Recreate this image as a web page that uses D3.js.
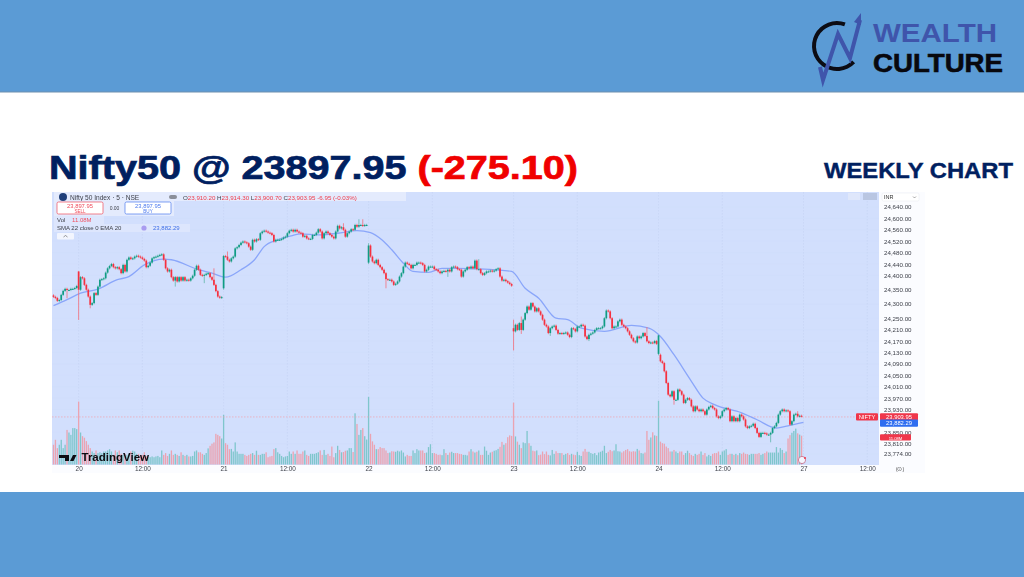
<!DOCTYPE html>
<html>
<head>
<meta charset="utf-8">
<script src="https://cdn.jsdelivr.net/npm/d3@7"></script>
<style>
  html, body { margin: 0; padding: 0; background: #fff; }
  svg { display: block; }
  .tv text { font-family: "Liberation Sans", sans-serif; }
</style>
</head>
<body>
<svg id="page" width="1024" height="577"></svg>
<script>
// closes per session
const closes19 = [24325,24321,24311,24314,24332,24346,24353,24349,24349,24353,24353,24356,24363];
const closes20 = [24350,24394,24390,24367,24350,24326,24297,24303,24338,24332,24361,24385,24387,24390,24410,
  24425,24433,24440,24429,24425,24429,24422,24408,24437,24414,24455,24463,24458,24460,24466,
  24469,24466,24463,24458,24452,24429,24434,24445,24460,24464,24466,24469,24472,24474,24455,
  24425,24414,24420,24394,24382,24394,24379,24394,24382,24394,24382,24385,24382,24390,24399,
  24420,24434,24420,24402,24399,24402,24406,24408,24394,24385,24367,24345,24326,24322,24324];
const closes21 = [24468,24466,24455,24449,24460,24466,24495,24499,24507,24515,24519,24516,24513,24501,24490,
  24525,24519,24527,24525,24548,24554,24557,24554,24550,24548,24542,24519,24525,24525,24525,
  24528,24533,24536,24548,24557,24560,24554,24560,24554,24550,24548,24536,24539,24530,24528,
  24528,24542,24542,24550,24562,24554,24530,24548,24554,24548,24542,24536,24530,24554,24574,
  24565,24569,24560,24536,24548,24554,24562,24560,24577,24571,24577,24577,24574,24577,24577];
const closes22 = [24505,24466,24449,24443,24455,24437,24429,24420,24408,24387,24385,24385,24379,24367,24371,
  24379,24396,24408,24431,24445,24441,24437,24425,24437,24437,24445,24445,24443,24437,24414,
  24420,24431,24431,24431,24422,24420,24414,24408,24414,24416,24414,24420,24414,24429,24431,
  24429,24422,24420,24396,24414,24420,24429,24425,24431,24425,24452,24422,24422,24408,24402,
  24408,24414,24414,24417,24414,24417,24422,24425,24396,24382,24385,24380,24375,24370,24364];
const closes23 = [24204,24227,24209,24233,24209,24245,24268,24291,24280,24303,24291,24274,24285,24274,24262,
  24245,24227,24221,24198,24215,24221,24224,24209,24196,24198,24196,24198,24200,24192,24184,
  24215,24212,24204,24221,24221,24227,24224,24186,24177,24192,24196,24200,24209,24215,24215,
  24215,24221,24250,24277,24274,24250,24215,24221,24221,24239,24245,24227,24221,24215,24204,
  24192,24180,24169,24165,24186,24180,24186,24198,24188,24169,24163,24165,24163,24170,24160];
const closes24 = [24190,24099,24093,24064,24023,23982,23976,23994,23964,23964,24000,23994,23982,23953,23964,
  23970,23964,23941,23924,23941,23930,23924,23930,23924,23912,23930,23939,23943,23935,23930,
  23906,23900,23906,23924,23930,23935,23930,23889,23906,23889,23900,23889,23912,23906,23895,
  23871,23865,23871,23873,23880,23865,23848,23834,23848,23848,23846,23842,23842,23848,23865,
  23871,23883,23912,23924,23930,23924,23927,23924,23877,23889,23912,23915,23906,23908,23906];

// volume per session in millions
const vols19 = [7.6,9.5,6.3,7.6,9.5,6.3,7.6,13.3,12.3,11.4,14,14,13.6];
const vols20 = [24.2,12.3,10.9,10.3,9,7.6,6.3,5,4.4,5.4,4.4,4.7,4.4,5,5,
  5.4,5.9,5,3.7,5.4,4.7,5.4,4.1,3.7,4.1,3.7,4.1,5,5.3,5,
  4.1,4.1,3.7,3.7,4.7,3.3,3.1,2.8,3.1,2.8,3.1,3.3,2.8,5.4,3.7,
  4.4,3.3,4.1,5.4,3.7,4.1,3.7,3.3,4.7,3.7,3.3,3.7,3.1,3.1,3.3,
  5,5.4,4.7,4.7,4.1,3.7,4.4,6.2,7.2,8,8.5,11.8,11.4,10.9,10];
const vols21 = [19.1,8.2,7.6,5.9,6,5,8.5,5,4.1,4.1,4.1,3.7,3.3,3.7,4.1,
  4.4,3.7,5.3,3.7,3.7,4.1,4.1,4.7,2.8,3.1,3.3,5.9,6.3,4.7,4.1,
  3.3,2.8,3.1,3.3,5,4.1,5,4.1,5.4,4.1,4.1,5,5.4,3.7,3.3,
  4.1,4.1,4.1,4.4,4.7,5.4,3.7,5.6,3.7,4.1,3.3,6.9,2.8,4.4,7.2,
  5.6,4.7,4.8,5.3,5.4,6.3,6.3,4.8,19.7,15.6,11.4,13.3,14,10.9,9.6];
const vols22 = [26,11.8,8.9,7.6,5.9,5.9,6.7,6.3,6.3,5.4,4.4,4.6,5.1,5,4.9,
  5.3,5,5.4,4.6,3.1,3.7,3.3,3.3,5.4,4.4,5.9,5.4,5.4,5.4,4.4,
  4.6,6.7,7.8,4.4,4.4,4.1,3.7,3.8,3.6,5.9,4.4,3.7,4.6,4.9,4.4,
  4.4,4.4,4.1,4,3.7,3.7,3.5,5,5.9,5,4.6,4.9,5.4,3.7,3.7,
  6.9,5.3,3.7,4.6,4.9,5.3,5.5,6,6.8,8.7,7.6,8.2,10.5,11.2,11];
const vols23 = [23.8,10.8,8.8,7.6,6.3,8.5,8.2,12.9,8.2,7.2,5.3,5.1,5.4,3.6,3.8,
  5,4,5,3.7,3.5,5.6,4.1,5.1,4.4,4.4,4.4,3.7,4.1,4.4,3.7,
  4.1,3.8,3.6,4.9,3.6,3.3,5,6,4.9,4.9,4.4,4.1,4.4,3.6,4.6,
  4.9,5.3,7.2,4.4,4.9,5.6,5.1,5.4,7.8,5.1,5,4.6,5.1,5.6,5.9,
  5.1,4.9,5.1,5,6,5.4,4.4,4.2,4.6,12.9,9.5,10.4,12.4,11.2,11];
const vols24 = [24.5,8.8,8.2,8,6.9,6.3,5,5,5.6,5,4.4,5,5,3.7,4.4,
  5.3,4.4,3.7,3.3,4.1,3.7,4.1,5,3.7,4.4,3.1,3.7,3.3,4.1,4.4,
  4.4,5,3.7,5,5.4,5.9,3.7,4.1,4.1,3.7,4.1,3.6,4.4,4.1,4.6,
  4.1,4,3.7,4.1,4.1,4.1,4.1,4.4,3.7,4.1,4.4,5,4.6,4.6,4.6,
  4.6,6.7,4.6,6.3,5.6,4.4,5,10,11.3,12.2,12.9,13.8,12,11.5,11.08];

// opens that differ from the previous close: [bar, open]
const openFixes = [[0,24330],[13,24414],[88,24355],[163,24445],[238,24215],[313,24125],[314,24122]];
// wicks that stand out: [bar, high, low]
const wickFixes = [[7,null,24320],[13,24415,24244],[19,null,24285],[63,null,24361],[78,null,24373],[83,24425,null],
  [88,24472,24350],[90,24484,null],[150,24583,null],[158,24597,null],[160,24597,null],[163,24513,24440],
  [172,null,24355],[204,null,24395],[220,24457,null],[238,24245,24137],[242,24256,24195],[257,null,24188],
  [277,null,24170],[307,24219,null],[313,24192,24120],[321,null,23947],[371,null,23815],[385,23924,null]];
const typicalWick = 4;

// blue EMA line, read at these bars
const emaBars = [0,7,14,23,33,39,47,57,61,75,82,89,97,104,109,116,123,128,137,147,157,164,170,175,181,186,194,201,208,223,237,244,251,260,266,273,285,299,308,314,321,330,336,342,356,364,374,380,388];
const emaValues = [24294,24315,24338,24352,24385,24396,24437,24457,24455,24420,24408,24394,24420,24455,24501,24525,24539,24546,24542,24548,24557,24550,24524,24490,24443,24414,24411,24425,24425,24422,24414,24355,24320,24250,24245,24215,24204,24225,24215,24186,24122,24029,23970,23947,23918,23894,23865,23873,23885];

const priceTicks = [24640,24600,24560,24520,24480,24440,24400,24350,24300,24250,24210,24170,24130,24090,24050,24010,23970,23930,23850,23810,23774];
const timeBars = [13,46,88,121,163,196,238,271,313,346,388,421];
const timeLabels = ['20','12:00','21','12:00','22','12:00','23','12:00','24','12:00','27','12:00'];

const lastPrice = 23903.95, emaLast = 23882.29, lastVol = 11.08;

const allCloses = closes19.concat(closes20, closes21, closes22, closes23, closes24);
const allVols = vols19.concat(vols20, vols21, vols22, vols23, vols24);
const openAt = new Map(openFixes), wickAt = new Map(wickFixes.map(d => [d[0], d]));

let bars = allCloses.map(function(c, i) {
  let o = openAt.has(i) ? openAt.get(i) : allCloses[i - 1];
  let w = wickAt.get(i) || [];
  return {
    i: i, o: o, c: c, v: allVols[i],
    h: w[1] != null ? w[1] : Math.max(o, c) + typicalWick,
    l: w[2] != null ? w[2] : Math.min(o, c) - typicalWick
  };
});

const svg = d3.select('#page');
const blue = '#5b9bd5', navy = '#002060';

// page bands
svg.append('rect').attr('width', 1024).attr('height', 577).attr('fill', '#fff');
svg.append('rect').attr('width', 1024).attr('height', 92).attr('fill', blue);
svg.append('rect').attr('y', 492).attr('width', 1024).attr('height', 85).attr('fill', blue);
svg.append('line').attr('x1', 0).attr('x2', 1024).attr('y1', 92).attr('y2', 92).attr('stroke', '#6f8fae');

// title
let title = svg.append('text').attr('x', 49).attr('y', 179)
  .attr('textLength', 529).attr('lengthAdjust', 'spacingAndGlyphs')
  .attr('font-family', '"Liberation Sans", sans-serif').attr('font-weight', 700).attr('font-size', 33)
  .attr('stroke-width', 0.7);
title.append('tspan').attr('fill', navy).attr('stroke', navy).text('Nifty50 @ 23897.95 ');
title.append('tspan').attr('fill', '#f00000').attr('stroke', '#f00000').text('(-275.10)');
svg.append('text').attr('x', 824).attr('y', 178).attr('fill', navy).attr('stroke', navy).attr('stroke-width', 0.4)
  .attr('textLength', 189).attr('lengthAdjust', 'spacingAndGlyphs')
  .attr('font-family', '"Liberation Sans", sans-serif').attr('font-weight', 700).attr('font-size', 21.5)
  .text('WEEKLY CHART');

// logo
let logo = svg.append('g');
logo.append('path').attr('d', d3.arc()({innerRadius: 21, outerRadius: 25, startAngle: 0.35, endAngle: -3.95 }))
  .attr('transform', 'translate(837,46)').attr('fill', '#0c0c14');
logo.append('path').attr('d', 'M820,67 L823,80 L838,34 L850,58 L860,20').attr('fill', 'none').attr('stroke', '#3f55ab').attr('stroke-width', 4);
logo.append('path').attr('d', 'M854,22 L861,13 L861,25 Z').attr('fill', '#3f55ab');
logo.append('text').attr('x', 873).attr('y', 41.5).attr('textLength', 124).attr('lengthAdjust', 'spacingAndGlyphs')
  .attr('font-family', '"Liberation Sans", sans-serif').attr('font-weight', 700).attr('font-size', 26).attr('fill', '#3f55ab').text('WEALTH');
logo.append('text').attr('x', 873).attr('y', 72).attr('textLength', 130).attr('lengthAdjust', 'spacingAndGlyphs')
  .attr('font-family', '"Liberation Sans", sans-serif').attr('font-weight', 700).attr('font-size', 26)
  .attr('stroke', '#08080e').attr('stroke-width', 0.6).attr('fill', '#08080e').text('CULTURE');

// chart panel
let tv = svg.append('g').attr('class', 'tv').style('filter', 'blur(0.5px)');
tv.append('rect').attr('x', 52).attr('y', 192).attr('width', 873).attr('height', 281).attr('fill', '#fbfcff');
tv.append('rect').attr('x', 52).attr('y', 192).attr('width', 827).attr('height', 273).attr('fill', '#d2dffd');

const x = d3.scaleLinear().domain([0, 388]).range([53.5, 803.5]);
const y = d3.scaleLinear().domain([24640, 23774]).range([207, 454]);
const yVol = d3.scaleLinear().domain([0, 25]).range([464.5, 399.5]);

// grid
tv.append('g').selectAll('line').data(priceTicks).join('line')
  .attr('x1', 52).attr('x2', 879).attr('y1', d => y(d)).attr('y2', d => y(d))
  .attr('stroke', '#cfdcfb').attr('stroke-width', 0.5);
tv.append('g').selectAll('line').data(timeBars).join('line')
  .attr('x1', d => x(d)).attr('x2', d => x(d)).attr('y1', 192).attr('y2', 465)
  .attr('stroke', '#c4d2f3').attr('stroke-width', 0.6).attr('stroke-dasharray', '1.5,1.5');

// volume
tv.append('g').selectAll('rect').data(bars).join('rect')
  .attr('x', d => x(d.i) - 0.65).attr('width', 1.3)
  .attr('y', d => yVol(d.v)).attr('height', d => yVol(0) - yVol(d.v))
  .attr('fill', d => d.c >= d.o ? '#7fc6cc' : '#eba3b1');

// price line
tv.append('line').attr('x1', 52).attr('x2', 879).attr('y1', y(lastPrice)).attr('y2', y(lastPrice))
  .attr('stroke', '#f2a0ac').attr('stroke-width', 0.7).attr('stroke-dasharray', '1.5,1.5');

// ema
tv.append('path').datum(emaBars.map((b, i) => [b, emaValues[i]]))
  .attr('d', d3.line().x(d => x(d[0])).y(d => y(d[1])).curve(d3.curveMonotoneX))
  .attr('fill', 'none').attr('stroke', '#8aa6fa').attr('stroke-width', 1.3);

// candles
let candleColor = d => d.c >= d.o ? '#0f9c84' : '#f5303f';
tv.append('g').selectAll('line').data(bars).join('line')
  .attr('x1', d => x(d.i)).attr('x2', d => x(d.i)).attr('y1', d => y(d.h)).attr('y2', d => y(d.l))
  .attr('stroke', d => d.c >= d.o ? '#5fb6a9' : '#f26d7a').attr('stroke-width', 0.8);
tv.append('g').selectAll('rect').data(bars).join('rect')
  .attr('x', d => x(d.i) - 0.85).attr('width', 1.7)
  .attr('y', d => y(Math.max(d.o, d.c)))
  .attr('height', d => Math.max(1, Math.abs(y(d.o) - y(d.c))))
  .attr('fill', candleColor);

// axes
let yAxis = tv.append('g').attr('transform', 'translate(880,0)')
  .call(d3.axisRight(y).tickValues(priceTicks).tickSize(0).tickPadding(4).tickFormat(d3.format(',.2f')));
yAxis.select('.domain').remove();
yAxis.selectAll('text').attr('font-size', 6.2).attr('fill', '#3c3f48').attr('font-family', '"Liberation Sans", sans-serif');

let xAxis = tv.append('g').attr('transform', 'translate(0,465)')
  .call(d3.axisBottom(x).tickValues(timeBars).tickSize(0).tickPadding(1.5).tickFormat((d, i) => timeLabels[i]));
xAxis.select('.domain').remove();
xAxis.selectAll('text').attr('font-size', 6.4).attr('fill', '#3c3f48').attr('font-family', '"Liberation Sans", sans-serif');

// right side tags
function tag(px, py, w, fill, label) {
  tv.append('rect').attr('x', px).attr('y', py - 3.6).attr('width', w).attr('height', 7.2).attr('rx', 1).attr('fill', fill);
  tv.append('text').attr('x', px + w / 2).attr('y', py + 2.1).attr('text-anchor', 'middle')
    .attr('font-size', 5.8).attr('fill', '#fff').text(label);
}
tag(856, y(lastPrice), 22, '#f0364a', 'NIFTY');
tag(880, y(lastPrice), 38, '#f0364a', d3.format(',.2f')(lastPrice));
tag(880, y(emaLast), 38, '#2f6df0', d3.format(',.2f')(emaLast));
// volume tag is squeezed between the 23,850 and 23,810 labels, hence the small text
tv.append('rect').attr('x', 880).attr('y', yVol(lastVol) - 1.5).attr('width', 31).attr('height', 6.4).attr('rx', 1).attr('fill', '#f0364a');
tv.append('text').attr('x', 895.5).attr('y', yVol(lastVol) + 3.9).attr('text-anchor', 'middle')
  .attr('font-size', 4.2).attr('fill', '#fff').text(lastVol + 'M');

// currency box and toolbar
tv.append('rect').attr('x', 882).attr('y', 193).attr('width', 37).attr('height', 8).attr('rx', 1.5).attr('fill', '#fff').attr('stroke', '#e6e8ef').attr('stroke-width', 0.5);
tv.append('text').attr('x', 884).attr('y', 199).attr('font-size', 5.5).attr('fill', '#333').text('INR');
tv.append('path').attr('d', 'M913,196.5 l1.5,1.5 l1.5,-1.5').attr('fill', 'none').attr('stroke', '#555').attr('stroke-width', 0.5);
tv.append('rect').attr('x', 863).attr('y', 193).attr('width', 14).attr('height', 7).attr('fill', '#b9c6e2');
tv.append('rect').attr('x', 848).attr('y', 193).attr('width', 12).attr('height', 7).attr('fill', '#dfe7fb');

// legend
tv.append('rect').attr('x', 54).attr('y', 192).attr('width', 352).attr('height', 9).attr('fill', '#e4ebfd');
tv.append('circle').attr('cx', 63).attr('cy', 197).attr('r', 4).attr('fill', '#1f3f7a');
tv.append('text').attr('x', 70).attr('y', 199.5).attr('font-size', 6.6).attr('fill', '#3c3f48').text('Nifty 50 Index · 5 · NSE');
tv.append('rect').attr('x', 169).attr('y', 195).attr('width', 8).attr('height', 4).attr('rx', 2).attr('fill', '#8b8f99');
let ohlc = tv.append('text').attr('x', 183).attr('y', 199.5).attr('font-size', 6.2).attr('fill', '#3c3f48');
[['O', '23,910.20'], ['H', '23,914.30'], ['L', '23,900.70'], ['C', '23,903.95']].forEach(function(p) {
  ohlc.append('tspan').text(p[0]);
  ohlc.append('tspan').attr('fill', '#ef3b4a').text(p[1] + ' ');
});
ohlc.append('tspan').attr('fill', '#ef3b4a').text('-6.95 (-0.03%)');

tv.append('rect').attr('x', 54).attr('y', 201).attr('width', 120).attr('height', 15).attr('fill', '#e4ebfd');
function tradeBox(bx, stroke, label, val) {
  tv.append('rect').attr('x', bx).attr('y', 202).attr('width', 46).attr('height', 12).attr('rx', 1.5).attr('fill', '#fff').attr('stroke', stroke).attr('stroke-width', 0.7);
  tv.append('text').attr('x', bx + 23).attr('y', 207.5).attr('text-anchor', 'middle').attr('font-size', 5.8).attr('fill', stroke).text(val);
  tv.append('text').attr('x', bx + 23).attr('y', 213).attr('text-anchor', 'middle').attr('font-size', 4.6).attr('fill', stroke).text(label);
}
tradeBox(57, '#ef4a5a', 'SELL', '23,897.95');
tradeBox(125, '#4a78ee', 'BUY', '23,897.95');
tv.append('text').attr('x', 114.5).attr('y', 210).attr('text-anchor', 'middle').attr('font-size', 5).attr('fill', '#3c3f48').text('0.00');

tv.append('rect').attr('x', 54).attr('y', 216).attr('width', 50).attr('height', 8).attr('fill', '#dde6fd');
tv.append('text').attr('x', 57).attr('y', 221.5).attr('font-size', 6).attr('fill', '#3c3f48').text('Vol');
tv.append('text').attr('x', 72).attr('y', 221.5).attr('font-size', 6).attr('fill', '#ef5060').text(lastVol + 'M');
tv.append('rect').attr('x', 54).attr('y', 224).attr('width', 136).attr('height', 8).attr('fill', '#dde6fd');
tv.append('text').attr('x', 57).attr('y', 230).attr('font-size', 6).attr('fill', '#3c3f48').text('SMA 22 close 0 EMA 20');
tv.append('circle').attr('cx', 144).attr('cy', 228).attr('r', 2.6).attr('fill', '#a99cf0');
tv.append('text').attr('x', 153).attr('y', 230).attr('font-size', 6).attr('fill', '#3f6fe8').text(d3.format(',.2f')(emaLast));
tv.append('rect').attr('x', 57).attr('y', 233).attr('width', 17).attr('height', 6.5).attr('rx', 1).attr('fill', '#f2f5fe');
tv.append('path').attr('d', 'M63.5,237 l2,-1.5 l2,1.5').attr('fill', 'none').attr('stroke', '#555').attr('stroke-width', 0.6);

// tradingview mark
tv.append('path').attr('d', 'M59,455 h10 v6 h-4 v-3 h-6 Z M70,461 l3,-6 h3.5 l-3,6 Z').attr('fill', '#0d0d12');
tv.append('text').attr('x', 81.5).attr('y', 461).attr('font-size', 11.5).attr('font-weight', 700)
  .attr('font-family', '"Liberation Sans", sans-serif').attr('fill', '#0d0d12').text('TradingView');

// small bottom icons
tv.append('circle').attr('cx', 802).attr('cy', 460).attr('r', 3.6).attr('fill', '#f3f5fd').attr('stroke', '#c05a7a').attr('stroke-width', 0.7);
tv.append('circle').attr('cx', 805).attr('cy', 458).attr('r', 1).attr('fill', '#f0364a');
tv.append('text').attr('x', 900).attr('y', 471).attr('text-anchor', 'middle').attr('font-size', 5.5).attr('fill', '#555').text('(⊙)');
</script>
</body>
</html>
